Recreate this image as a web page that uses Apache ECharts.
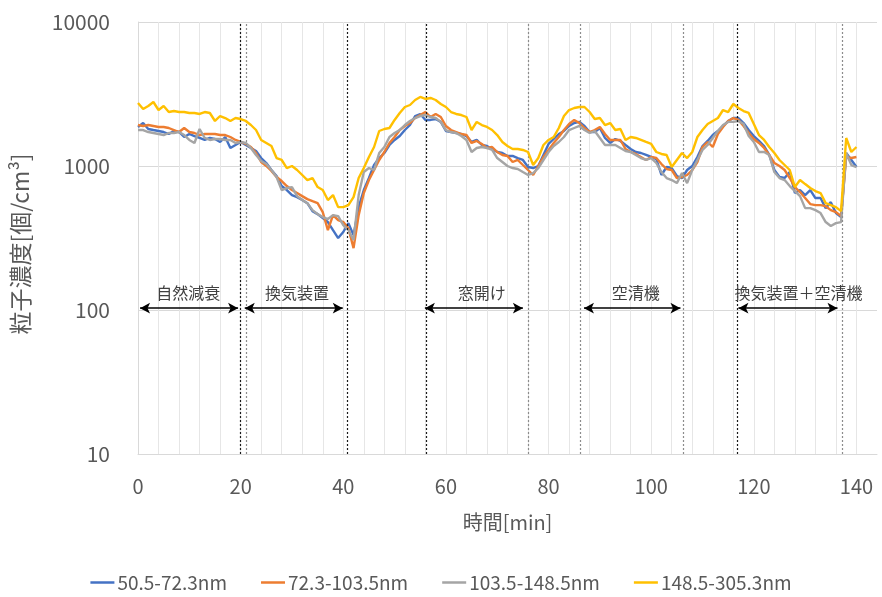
<!DOCTYPE html>
<html><head><meta charset="utf-8">
<script src="https://cdn.jsdelivr.net/npm/echarts@6/dist/echarts.min.js"></script>
<style>html,body{margin:0;padding:0;background:#fff}#c{width:882px;height:597px}</style>
</head><body><div id="c"></div>
<script>
const minutes = [0,1,2,3,4,5,6,7,8,9,10,11,12,13,14,15,16,17,18,19,20,21,22,23,24,25,26,27,28,29,30,31,32,33,34,35,36,37,38,39,40,41,42,43,44,45,46,47,48,49,50,51,52,53,54,55,56,57,58,59,60,61,62,63,64,65,66,67,68,69,70,71,72,73,74,75,76,77,78,79,80,81,82,83,84,85,86,87,88,89,90,91,92,93,94,95,96,97,98,99,100,101,102,103,104,105,106,107,108,109,110,111,112,113,114,115,116,117,118,119,120,121,122,123,124,125,126,127,128,129,130,131,132,133,134,135,136,137,138,139,140];

const seriesNames = ['50.5-72.3nm','72.3-103.5nm','103.5-148.5nm','148.5-305.3nm'];

const blue = [1866,1988,1807,1778,1750,1722,1668,1750,1722,1590, 1668,1615,1565,1516,1565,1540,1468,1590,1334,1399, 1468,1399,1334,1271,1136,1049,938,852,726,681, 628,608,580,552,486,463,435,408,359,316, 348,401,331,518,681,825,1016,1136,1231,1399, 1516,1615,1778,1926,2224,2297,2089,2089,2120,2024, 1750,1722,1695,1668,1615,1468,1516,1399,1377,1313, 1251,1231,1174,1174,1136,1101,984,968,1000,1193, 1422,1540,1668,1750,1896,1988,2024,1896,1722,1722, 1836,1565,1445,1540,1492,1399,1313,1251,1231,1193, 1155,1118,866,984,968,852,825,938,1000,1155, 1377,1492,1641,1750,1896,2054,2154,2154,1988,1778, 1615,1492,1377,1193,938,838,825,908,649,681, 628,681,599,599,510,561,471,442,1231,1101, 984];

const orange = [1926,1896,1926,1896,1866,1866,1836,1778,1722,1836, 1722,1695,1641,1668,1668,1668,1641,1641,1590,1516, 1468,1422,1355,1231,1066,1000,923,838,786,726, 681,649,618,589,570,552,478,359,456,421, 408,370,269,456,649,799,938,1101,1251,1445, 1590,1778,1896,1988,2154,2260,2371,2189,2297,2189, 1896,1778,1722,1668,1641,1445,1492,1422,1334,1355, 1251,1193,1174,1066,1101,1016,938,866,1000,1155, 1292,1445,1590,1778,1957,2089,1988,1836,1722,1778, 1866,1668,1516,1516,1516,1313,1251,1212,1155,1101, 1155,1136,1032,953,938,825,838,866,938,1066, 1355,1468,1355,1668,1866,2054,2154,2089,1896,1695, 1540,1445,1334,1193,1049,1000,938,825,714,659, 599,544,535,535,526,494,478,449,1155,1136, 1155];

const gray = [1778,1778,1722,1695,1668,1641,1695,1695,1722,1641, 1516,1445,1807,1565,1516,1540,1540,1516,1516,1445, 1468,1445,1334,1193,1083,1032,938,838,681,703, 714,618,580,552,494,463,442,428,456,449, 389,359,306,628,908,968,938,1231,1355,1590, 1695,1778,1926,2054,2154,2224,2260,2189,2154,2024, 1778,1722,1695,1615,1516,1251,1334,1355,1334,1292, 1136,1066,1000,968,953,908,866,894,968,1101, 1251,1377,1468,1590,1778,1836,1896,1778,1695,1750, 1565,1399,1399,1399,1334,1271,1251,1193,1136,1101, 1136,1049,908,825,799,761,894,761,938,1101, 1292,1399,1565,1750,1926,2024,2024,2054,1957,1615, 1468,1251,1251,1193,908,825,799,726,670,618, 510,510,494,471,408,383,401,408,1231,1016, 984];

const yellow = [2738,2488,2610,2783,2448,2610,2371,2409,2371,2371, 2334,2334,2297,2371,2334,2054,2224,2154,2054,2154, 2120,2054,1926,1778,1516,1445,1377,1136,1101,968, 1000,938,866,799,825,714,681,580,628,518, 518,535,608,825,968,1155,1355,1750,1807,1836, 2089,2334,2569,2652,2873,3015,2920,2967,2873,2695, 2569,2371,2297,2260,2189,1778,2024,1926,1866,1778, 1641,1468,1377,1313,1313,1292,1251,1016,1136,1399, 1516,1590,1836,2224,2448,2528,2569,2569,2371,2120, 2154,1926,1988,1778,1807,1516,1590,1565,1516,1468, 1422,1251,1212,1193,984,1101,1231,1136,1251,1590, 1778,1957,2054,2154,2448,2371,2695,2528,2409,2334, 1957,1641,1516,1355,1231,1101,1016,938,714,799, 749,703,670,649,552,535,518,486,1565,1251, 1355];

// event marker times (minutes) and whether drawn dark
const eventTimes = [20, 21, 40.7, 56.1, 76.1, 86.1, 106.3, 116.8, 137.2];
const eventDark  = [true, false, true, true, false, false, false, true, false];

// phases: label, start, end (minutes), label centre (minutes)
const phaseNames  = ['自然減衰','換気装置','窓開け','空清機','換気装置＋空清機'];
const phaseStart  = [0.4, 20.8, 55.9, 86.9, 117.0];
const phaseEnd    = [19.5, 39.9, 75.0, 105.7, 136.3];
const phaseLabelX = [9.8, 31.0, 67.0, 97.0, 128.7];
const arrowLevel = 103;
const labelLevel = 131;

const xTickLabels = [0,20,40,60,80,100,120,140];
const colors = ['#4472C4','#ED7D31','#A5A5A5','#FFC000'];
const FONT = '"Noto Sans CJK JP", "Noto Sans", sans-serif';

// vertical grid every 4 min from 0 to 144; the last one (plot edge) is hidden
const xGridColors = [];
for (let k = 0; k <= 36; k++) xGridColors.push(k === 36 ? 'rgba(0,0,0,0)' : '#e6e6e6');

const allData = [blue, orange, gray, yellow];
const series = allData.map((arr, si) => ({
  name: seriesNames[si],
  type: 'line',
  showSymbol: false,
  symbol: 'none',
  data: arr.map((v, i) => [minutes[i], v]),
  lineStyle: {width: 2.4, color: colors[si]},
  itemStyle: {color: colors[si]},
  z: 2 + si
}));

series[0].markLine = {
  silent: true, symbol: 'none', label: {show: false}, animation: false,
  data: eventTimes.map((t, i) => ({
    xAxis: t,
    lineStyle: {color: eventDark[i] ? '#1a1a1a' : '#8c8c8c', type: [2, 2], width: 1.2}
  }))
};
series[1].markLine = {
  silent: true, symbol: ['arrow', 'arrow'], symbolSize: [8, 10], label: {show: false}, animation: false,
  lineStyle: {color: '#000', type: 'solid', width: 1.5},
  data: phaseNames.map((n, i) => [{coord: [phaseStart[i], arrowLevel]}, {coord: [phaseEnd[i], arrowLevel]}])
};
series[2].markPoint = {
  silent: true, symbol: 'circle', symbolSize: 1, itemStyle: {color: 'rgba(0,0,0,0)'}, animation: false,
  label: {show: true, position: 'inside', formatter: '{b}', color: '#404040', fontSize: 16, fontFamily: FONT},
  data: phaseNames.map((n, i) => ({name: n, coord: [phaseLabelX[i], labelLevel]}))
};

const chart = echarts.init(document.getElementById('c'), null, {renderer: 'canvas'});
chart.setOption({
  animation: false,
  textStyle: {fontFamily: FONT},
  grid: {left: 138, right: 5, top: 22, bottom: 143, containLabel: false},
  xAxis: {
    type: 'value', min: 0, max: 144, interval: 4,
    axisLine: {show: true, onZero: false, lineStyle: {color: '#d9d9d9', width: 1}},
    axisTick: {show: false},
    axisLabel: {
      color: '#595959', fontSize: 20, margin: 22, fontFamily: FONT,
      formatter: v => xTickLabels.indexOf(Math.round(v)) >= 0 && Math.abs(v - Math.round(v)) < 1e-6 ? String(Math.round(v)) : ''
    },
    splitLine: {show: true, lineStyle: {color: xGridColors, width: 1}},
    name: '時間[min]', nameLocation: 'middle', nameGap: 58,
    nameTextStyle: {fontSize: 20, color: '#595959', fontFamily: FONT}
  },
  yAxis: {
    type: 'log', logBase: 10, min: 10, max: 10000,
    axisLine: {show: true, lineStyle: {color: '#d9d9d9', width: 1}},
    axisTick: {show: false},
    axisLabel: {color: '#595959', fontSize: 21, margin: 28, fontFamily: FONT, formatter: v => String(Math.round(v))},
    splitLine: {show: true, lineStyle: {color: '#d9d9d9', width: 1}},
    name: '粒子濃度[個/cm³]', nameLocation: 'middle', nameGap: 106, nameRotate: 90,
    nameTextStyle: {fontSize: 23, color: '#595959', fontFamily: FONT, padding: [0, 12, 0, 0]}
  },
  legend: {
    top: 568, left: 'center', icon: 'rect', itemWidth: 24, itemHeight: 2.5, itemGap: 34,
    textStyle: {fontSize: 19, color: '#595959', fontFamily: FONT, padding: [0, 0, 0, -2]},
    data: seriesNames
  },
  series: series
});
</script></body></html>
